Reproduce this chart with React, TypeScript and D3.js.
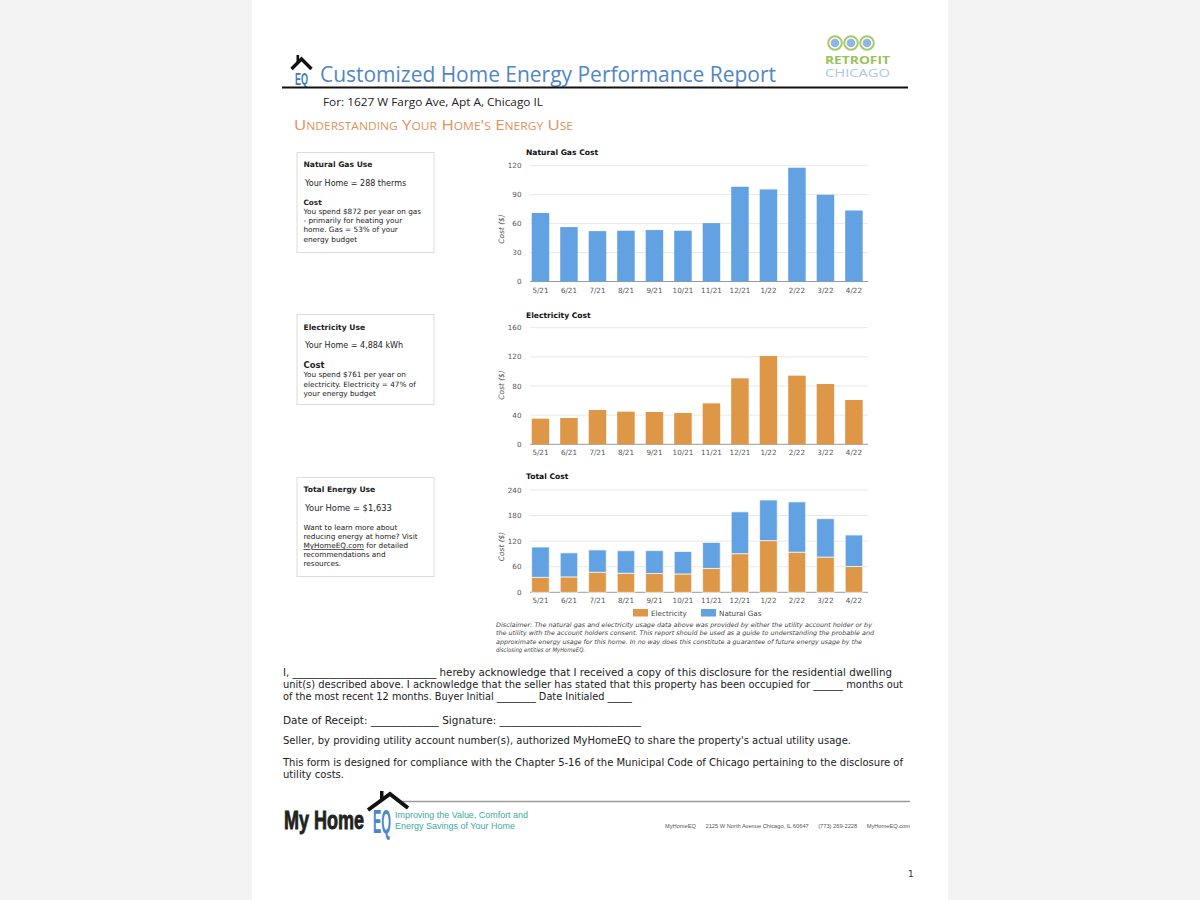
import React from "react";
import * as d3 from "d3";

const months = ["5/21", "6/21", "7/21", "8/21", "9/21", "10/21", "11/21", "12/21", "1/22", "2/22", "3/22", "4/22"];
const gasCost = [71, 56.4, 52.2, 52.6, 53.3, 52.6, 60.5, 98.2, 95.4, 117.9, 89.9, 73.6];
const elecCost = [35.2, 36.1, 47.1, 44.8, 44.3, 43.0, 56.2, 90.5, 121.1, 94.2, 82.7, 60.8];
const gasTicks = [0, 30, 60, 90, 120];
const elecTicks = [0, 40, 80, 120, 160];
const totalTicks = [0, 60, 120, 180, 240];
const seriesNames = ["Electricity", "Natural Gas"];

const GAS = "#63a2e2";
const ELEC = "#de9647";
const CHART_FONT = "DejaVu Sans, Verdana, sans-serif";

type ChartProps = {
  title: string;
  titleY: number;
  y0: number;
  y1: number;
  ticks: number[];
  series: { values: number[]; color: string }[];
  labelY: number;
  yLabelCenter: number;
};

function BarChart({ title, titleY, y0, y1, ticks, series, labelY, yLabelCenter }: ChartProps) {
  const x = d3.scaleBand<string>().domain(months).range([530, 864.4]).paddingInner(0.386).paddingOuter(0.06);
  const yMax = ticks[ticks.length - 1];
  const y = d3.scaleLinear().domain([0, yMax]).range([y0, y1]);
  const stackData = months.map((m, i) => {
    const o: any = { m };
    series.forEach((s, k) => (o["s" + k] = s.values[i]));
    return o;
  });
  const stack = d3.stack<any>().keys(series.map((_, k) => "s" + k))(stackData);
  return (
    <g fontFamily={CHART_FONT}>
      <text x={526} y={titleY} fontSize={7.6} fontWeight="bold" fill="#111">{title}</text>
      {ticks.map((t) => (
        <g key={t}>
          <line x1={530} x2={868} y1={y(t)} y2={y(t)} stroke={t === 0 ? "#9a9a9a" : "#e2e2e2"} strokeWidth={t === 0 ? 1 : 0.8} />
          <text x={521.5} y={y(t) + 2.6} fontSize={7.2} fill="#555" textAnchor="end">{t}</text>
        </g>
      ))}
      <text transform={`translate(503.5,${yLabelCenter}) rotate(-90)`} fontSize={7.4} fill="#555" fontStyle="italic" textAnchor="middle">Cost ($)</text>
      {stack.map((layer, k) => (
        <g key={k}>
          {layer.map((d, i) => (
            <rect key={i} x={x(months[i])} width={x.bandwidth()} y={y(d[1])} height={y(d[0]) - y(d[1])}
              fill={series[k].color} stroke={series.length > 1 ? "#f4f4f4" : "none"} strokeWidth={series.length > 1 ? 0.8 : 0} />
          ))}
        </g>
      ))}
      {months.map((m) => (
        <text key={m} x={(x(m) as number) + x.bandwidth() / 2} y={labelY} fontSize={7.2} fill="#555" textAnchor="middle">{m}</text>
      ))}
    </g>
  );
}

function InfoBox({ x, y, w, h, children }: any) {
  return (
    <g>
      <rect x={x} y={y} width={w} height={h} fill="#fff" stroke="#dcdcdc" strokeWidth={1} />
      {children}
    </g>
  );
}

const T = (p: any) => <text fontFamily={CHART_FONT} fill="#222" {...p} />;

export default function App() {
  const bodyFont = "DejaVu Sans Condensed, DejaVu Sans, sans-serif";
  const narrow = "Liberation Sans, Arial, sans-serif";
  return (
    <svg width={1200} height={900} style={{ position: "absolute", left: 0, top: 0 }} xmlns="http://www.w3.org/2000/svg">
      <rect x={0} y={0} width={1200} height={900} fill="#f3f3f3" />
      <rect x={252} y={0} width={696} height={900} fill="#ffffff" />

      {/* header icon */}
      <path d="M291.5,69 L301.5,59 L311.5,69" fill="none" stroke="#111" strokeWidth={3.4} />
      <rect x={296.5} y={55} width={2.6} height={7} fill="#111" />
      <text transform="translate(295,84.5) scale(1,1.45)" fontFamily={narrow} fontWeight="bold" fontSize={11} fill="#3e78c2" textLength={13} lengthAdjust="spacingAndGlyphs">EQ</text>
      <text x={320} y={82} fontFamily="Open Sans, sans-serif" fontSize={22} fill="#4f86c6" textLength={456} lengthAdjust="spacingAndGlyphs">Customized Home Energy Performance Report</text>

      {/* retrofit logo */}
      {[835, 851, 867].map((cx) => (
        <g key={cx}>
          <circle cx={cx} cy={43} r={6.8} fill="#fff" stroke="#a8c96a" strokeWidth={2} />
          <circle cx={cx} cy={43} r={4.3} fill="#8fb6de" />
        </g>
      ))}
      <text x={825} y={63.5} fontFamily="Open Sans, sans-serif" fontWeight="bold" fontSize={10.5} fill="#9cc25a" textLength={65} lengthAdjust="spacingAndGlyphs">RETROFIT</text>
      <text x={825} y={77} fontFamily="Open Sans, sans-serif" fontSize={10.5} fill="#a9c8e6" textLength={65} lengthAdjust="spacingAndGlyphs">CHICAGO</text>

      <line x1={282} x2={908} y1={87.5} y2={87.5} stroke="#111" strokeWidth={2} />
      <text x={323} y={106} fontFamily="Open Sans, sans-serif" fontSize={11} fill="#222" textLength={220} lengthAdjust="spacingAndGlyphs">For: 1627 W Fargo Ave, Apt A, Chicago IL</text>
      <text x={294} y={130} fontFamily="Open Sans, sans-serif" fontSize={14} fill="#e2925a" style={{ fontVariant: "small-caps" }} textLength={279} lengthAdjust="spacingAndGlyphs">Understanding Your Home's Energy Use</text>

      {/* info boxes */}
      <InfoBox x={297} y={152.5} w={137} h={100}>
        <T x={303.5} y={167} fontSize={7.6} fontWeight="bold">Natural Gas Use</T>
        <T x={305} y={185.5} fontSize={8}>Your Home = 288 therms</T>
        <T x={303.5} y={204.5} fontSize={7.3} fontWeight="bold">Cost</T>
        <T x={303.5} y={213.5} fontSize={7.3}>You spend $872 per year on gas</T>
        <T x={303.5} y={223} fontSize={7.3}>- primarily for heating your</T>
        <T x={303.5} y={232.3} fontSize={7.3}>home. Gas = 53% of your</T>
        <T x={303.5} y={241.7} fontSize={7.3}>energy budget</T>
      </InfoBox>
      <InfoBox x={297} y={314.5} w={137} h={90}>
        <T x={303.5} y={329.5} fontSize={7.6} fontWeight="bold">Electricity Use</T>
        <T x={305} y={347.5} fontSize={8}>Your Home = 4,884 kWh</T>
        <T x={303.5} y={367.5} fontSize={8.4} fontWeight="bold">Cost</T>
        <T x={303.5} y={377} fontSize={7.3}>You spend $761 per year on</T>
        <T x={303.5} y={386.5} fontSize={7.3}>electricity. Electricity = 47% of</T>
        <T x={303.5} y={396} fontSize={7.3}>your energy budget</T>
      </InfoBox>
      <InfoBox x={297} y={477.5} w={137} h={99}>
        <T x={303.5} y={491.5} fontSize={7.6} fontWeight="bold">Total Energy Use</T>
        <T x={305} y={510.5} fontSize={8.4}>Your Home = $1,633</T>
        <T x={303.5} y={529.5} fontSize={7.3}>Want to learn more about</T>
        <T x={303.5} y={538.7} fontSize={7.3}>reducing energy at home? Visit</T>
        <T x={303.5} y={548} fontSize={7.3}><tspan textDecoration="underline">MyHomeEQ.com</tspan> for detailed</T>
        <T x={303.5} y={557.2} fontSize={7.3}>recommendations and</T>
        <T x={303.5} y={566.4} fontSize={7.3}>resources.</T>
      </InfoBox>

      <BarChart title="Natural Gas Cost" titleY={155} y0={281.5} y1={165.7} ticks={gasTicks}
        series={[{ values: gasCost, color: GAS }]} labelY={293} yLabelCenter={229} />
      <BarChart title="Electricity Cost" titleY={317.5} y0={444.3} y1={327.7} ticks={elecTicks}
        series={[{ values: elecCost, color: ELEC }]} labelY={454.5} yLabelCenter={385} />
      <BarChart title="Total Cost" titleY={479} y0={592.3} y1={490} ticks={totalTicks}
        series={[{ values: elecCost, color: ELEC }, { values: gasCost, color: GAS }]} labelY={603} yLabelCenter={546.5} />

      {/* legend */}
      <g fontFamily={CHART_FONT} fontSize={7.2} fill="#444">
        <rect x={633} y={609} width={15} height={7.5} fill={ELEC} />
        <text x={651} y={615.5} fill="#444">{seriesNames[0]}</text>
        <rect x={701} y={609} width={15} height={7.5} fill={GAS} />
        <text x={719} y={615.5} fill="#444">{seriesNames[1]}</text>
      </g>

      {/* disclaimer */}
      <g fontFamily={CHART_FONT} fontSize={6.2} fontStyle="italic" fill="#444">
        <text x={496} y={626.5} textLength={376} lengthAdjust="spacingAndGlyphs">Disclaimer: The natural gas and electricity usage data above was provided by either the utility account holder or by</text>
        <text x={496} y={635} textLength={378} lengthAdjust="spacingAndGlyphs">the utility with the account holders consent. This report should be used as a guide to understanding the probable and</text>
        <text x={496} y={643.5} textLength={366} lengthAdjust="spacingAndGlyphs">approximate energy usage for this home. In no way does this constitute a guarantee of future energy usage by the</text>
        <text x={496} y={652} textLength={89} lengthAdjust="spacingAndGlyphs">disclosing entities or MyHomeEQ.</text>
      </g>

      {/* body text */}
      <g fontFamily={bodyFont} fontSize={10.2} fill="#222">
        <text x={283} y={676} textLength={609} lengthAdjust="spacingAndGlyphs">I, ____________________________ hereby acknowledge that I received a copy of this disclosure for the residential dwelling</text>
        <text x={283} y={688} textLength={620} lengthAdjust="spacingAndGlyphs">unit(s) described above. I acknowledge that the seller has stated that this property has been occupied for ______ months out</text>
        <text x={283} y={700} textLength={349} lengthAdjust="spacingAndGlyphs">of the most recent 12 months. Buyer Initial ________ Date Initialed _____</text>
        <text x={283} y={724} textLength={358} lengthAdjust="spacingAndGlyphs">Date of Receipt: _____________ Signature: ___________________________</text>
        <text x={283} y={744} textLength={568} lengthAdjust="spacingAndGlyphs">Seller, by providing utility account number(s), authorized MyHomeEQ to share the property's actual utility usage.</text>
        <text x={283} y={766} textLength={620} lengthAdjust="spacingAndGlyphs">This form is designed for compliance with the Chapter 5-16 of the Municipal Code of Chicago pertaining to the disclosure of</text>
        <text x={283} y={778} textLength={61} lengthAdjust="spacingAndGlyphs">utility costs.</text>
      </g>

      {/* footer */}
      <line x1={401} x2={910} y1={801.5} y2={801.5} stroke="#9a9a9a" strokeWidth={1.3} />
      <text transform="translate(284,829) scale(1,1.47)" fontFamily={narrow} fontWeight="bold" fontSize={18} fill="#222" stroke="#222" strokeWidth={0.6}>My Home</text>
      <path d="M368,810 L390,794 L408,808" fill="none" stroke="#111" strokeWidth={4} />
      <rect x={380} y={791} width={3.5} height={9} fill="#111" />
      <text transform="translate(373,833) scale(1,2.6)" fontFamily={narrow} fontWeight="bold" fontSize={12.5} fill="#4a86c8">EQ</text>
      <text x={395} y={817.5} fontFamily={narrow} fontSize={8.5} fill="#3aa9a4" textLength={133} lengthAdjust="spacingAndGlyphs">Improving the Value, Comfort and</text>
      <text x={395} y={828.5} fontFamily={narrow} fontSize={8.5} fill="#3aa9a4" textLength={120} lengthAdjust="spacingAndGlyphs">Energy Savings of Your Home</text>
      <text x={665} y={828} fontFamily={narrow} fontSize={5.5} fill="#555" textLength={245} lengthAdjust="spacingAndGlyphs" style={{ whiteSpace: "pre" }}>MyHomeEQ      2125 W North Avenue Chicago, IL 60647      (773) 269-2228      MyHomeEQ.com</text>
      <text x={908} y={877} fontFamily={CHART_FONT} fontSize={9} fill="#333">1</text>
    </svg>
  );
}
